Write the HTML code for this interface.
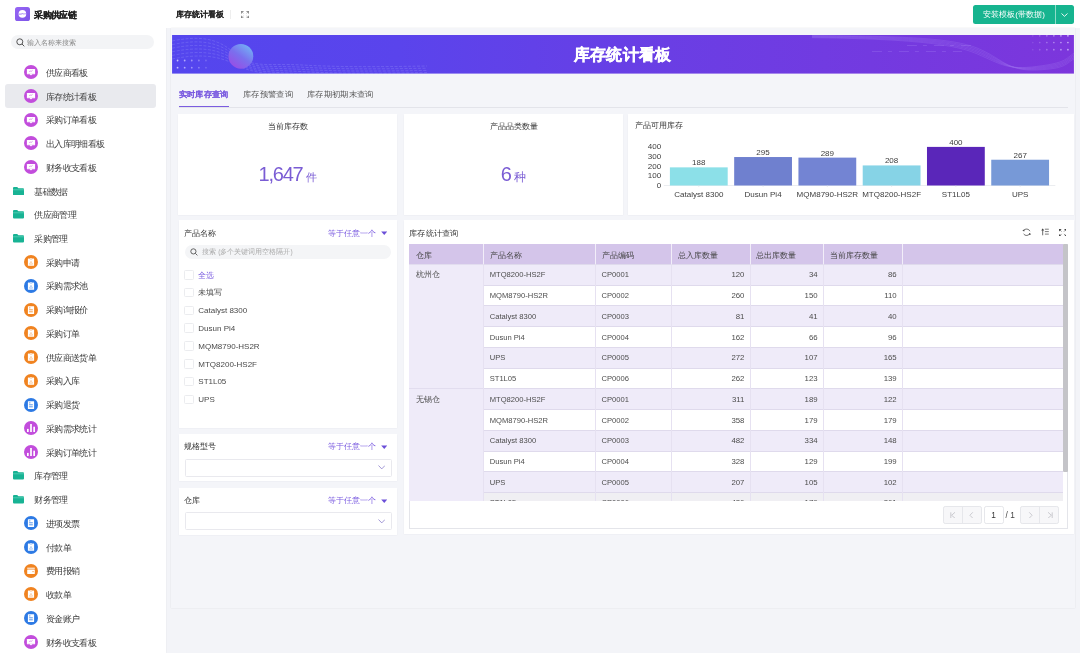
<!DOCTYPE html><html><head><meta charset="utf-8"><style>
*{box-sizing:border-box;margin:0;padding:0}
body{width:1080px;height:653px;overflow:hidden;position:relative;background:#f3f4f8;font-family:'Liberation Sans', sans-serif;color:#333}
.ab{position:absolute}
.t{position:absolute;white-space:nowrap;line-height:12px;height:12px}
</style></head><body><div id="root" style="position:absolute;left:0;top:0;width:1080px;height:653px;transform:scale(1.0);transform-origin:0 0;overflow:hidden;will-change:transform">

<div class="ab" style="left:0;top:0;width:165.8px;height:653px;background:#fff;box-shadow:0.5px 0 1.5px rgba(0,0,0,0.06)"></div>
<svg class="ab" style="left:15px;top:6.9px" width="15" height="14" viewBox="0 0 15 14">
<defs><linearGradient id="lg" x1="0" y1="0" x2="1" y2="1"><stop offset="0" stop-color="#9766f4"/><stop offset="1" stop-color="#7d55e8"/></linearGradient></defs>
<rect x="0" y="0" width="15" height="14" rx="2.6" fill="url(#lg)"/>
<circle cx="7.4" cy="6.9" r="3.8" fill="#fff"/>
<path d="M3.8 7.1 H6.2 Q7.3 5.9 8.4 7 L11 6.8" stroke="#b69af7" stroke-width="1.1" fill="none"/>
</svg>
<div class="t" style="left:34.4px;top:9px;font-size:9px;letter-spacing:-0.65px;font-weight:bold;color:#222;-webkit-text-stroke:0.2px #222">采购供应链</div>
<div class="ab" style="left:10.5px;top:34.8px;width:143.5px;height:14.7px;border-radius:7.5px;background:#f3f4f6"></div>
<svg class="ab" style="left:15.5px;top:38px" width="9" height="9" viewBox="0 0 9 9"><circle cx="3.8" cy="3.8" r="3" stroke="#555" stroke-width="1" fill="none"/><path d="M6 6 L8.3 8.3" stroke="#555" stroke-width="1"/></svg>
<div class="t" style="left:27.2px;top:37.2px;font-size:7px;color:#888">输入名称来搜索</div>
<div class="ab" style="left:5px;top:84.2px;width:151px;height:23.4px;border-radius:3px;background:#e9eaee"></div>
<svg class="ab" style="left:23.9px;top:65.20px" width="14" height="14" viewBox="0 0 14 14"><circle cx="7" cy="7" r="7" fill="#c24ddc"/><rect x="2.9" y="3.9" width="8.2" height="5.3" rx="0.5" fill="#fff"/><path d="M5.6 9.1 L8.4 9.1 L7 10.6Z" fill="#fff"/><path d="M5.2 6.6 L6.3 6.1 L7.2 6.4 L8.6 5.3" stroke="#c24ddc" stroke-width="0.55" fill="none"/><path d="M3.4 8.3 H10.6" stroke="#c24ddc" stroke-width="0.25" opacity="0.6"/></svg>
<div class="t" style="left:46px;top:66.80px;font-size:9px;letter-spacing:-0.65px;color:#3a3a3a">供应商看板</div>
<svg class="ab" style="left:23.9px;top:88.94px" width="14" height="14" viewBox="0 0 14 14"><circle cx="7" cy="7" r="7" fill="#c24ddc"/><rect x="2.9" y="3.9" width="8.2" height="5.3" rx="0.5" fill="#fff"/><path d="M5.6 9.1 L8.4 9.1 L7 10.6Z" fill="#fff"/><path d="M5.2 6.6 L6.3 6.1 L7.2 6.4 L8.6 5.3" stroke="#c24ddc" stroke-width="0.55" fill="none"/><path d="M3.4 8.3 H10.6" stroke="#c24ddc" stroke-width="0.25" opacity="0.6"/></svg>
<div class="t" style="left:46px;top:90.54px;font-size:9px;letter-spacing:-0.65px;color:#3a3a3a">库存统计看板</div>
<svg class="ab" style="left:23.9px;top:112.68px" width="14" height="14" viewBox="0 0 14 14"><circle cx="7" cy="7" r="7" fill="#c24ddc"/><rect x="2.9" y="3.9" width="8.2" height="5.3" rx="0.5" fill="#fff"/><path d="M5.6 9.1 L8.4 9.1 L7 10.6Z" fill="#fff"/><path d="M5.2 6.6 L6.3 6.1 L7.2 6.4 L8.6 5.3" stroke="#c24ddc" stroke-width="0.55" fill="none"/><path d="M3.4 8.3 H10.6" stroke="#c24ddc" stroke-width="0.25" opacity="0.6"/></svg>
<div class="t" style="left:46px;top:114.28px;font-size:9px;letter-spacing:-0.65px;color:#3a3a3a">采购订单看板</div>
<svg class="ab" style="left:23.9px;top:136.42px" width="14" height="14" viewBox="0 0 14 14"><circle cx="7" cy="7" r="7" fill="#c24ddc"/><rect x="2.9" y="3.9" width="8.2" height="5.3" rx="0.5" fill="#fff"/><path d="M5.6 9.1 L8.4 9.1 L7 10.6Z" fill="#fff"/><path d="M5.2 6.6 L6.3 6.1 L7.2 6.4 L8.6 5.3" stroke="#c24ddc" stroke-width="0.55" fill="none"/><path d="M3.4 8.3 H10.6" stroke="#c24ddc" stroke-width="0.25" opacity="0.6"/></svg>
<div class="t" style="left:46px;top:138.02px;font-size:9px;letter-spacing:-0.65px;color:#3a3a3a">出入库明细看板</div>
<svg class="ab" style="left:23.9px;top:160.16px" width="14" height="14" viewBox="0 0 14 14"><circle cx="7" cy="7" r="7" fill="#c24ddc"/><rect x="2.9" y="3.9" width="8.2" height="5.3" rx="0.5" fill="#fff"/><path d="M5.6 9.1 L8.4 9.1 L7 10.6Z" fill="#fff"/><path d="M5.2 6.6 L6.3 6.1 L7.2 6.4 L8.6 5.3" stroke="#c24ddc" stroke-width="0.55" fill="none"/><path d="M3.4 8.3 H10.6" stroke="#c24ddc" stroke-width="0.25" opacity="0.6"/></svg>
<div class="t" style="left:46px;top:161.76px;font-size:9px;letter-spacing:-0.65px;color:#3a3a3a">财务收支看板</div>
<svg class="ab" style="left:13.4px;top:186.60px" width="11" height="8.5" viewBox="0 0 11 8.5"><path d="M0 1 Q0 0 1 0 L4.2 0 L5.4 1.3 L10 1.3 Q11 1.3 11 2.3 L11 7.6 Q11 8.5 10 8.5 L1 8.5 Q0 8.5 0 7.6Z" fill="#18b394"/><path d="M0 2.8 H11" stroke="#7fe3cf" stroke-width="0.5"/></svg>
<div class="t" style="left:34.4px;top:185.50px;font-size:9px;letter-spacing:-0.65px;color:#3a3a3a">基础数据</div>
<svg class="ab" style="left:13.4px;top:210.34px" width="11" height="8.5" viewBox="0 0 11 8.5"><path d="M0 1 Q0 0 1 0 L4.2 0 L5.4 1.3 L10 1.3 Q11 1.3 11 2.3 L11 7.6 Q11 8.5 10 8.5 L1 8.5 Q0 8.5 0 7.6Z" fill="#18b394"/><path d="M0 2.8 H11" stroke="#7fe3cf" stroke-width="0.5"/></svg>
<div class="t" style="left:34.4px;top:209.24px;font-size:9px;letter-spacing:-0.65px;color:#3a3a3a">供应商管理</div>
<svg class="ab" style="left:13.4px;top:234.08px" width="11" height="8.5" viewBox="0 0 11 8.5"><path d="M0 1 Q0 0 1 0 L4.2 0 L5.4 1.3 L10 1.3 Q11 1.3 11 2.3 L11 7.6 Q11 8.5 10 8.5 L1 8.5 Q0 8.5 0 7.6Z" fill="#18b394"/><path d="M0 2.8 H11" stroke="#7fe3cf" stroke-width="0.5"/></svg>
<div class="t" style="left:34.4px;top:232.98px;font-size:9px;letter-spacing:-0.65px;color:#3a3a3a">采购管理</div>
<svg class="ab" style="left:23.9px;top:255.12px" width="14" height="14" viewBox="0 0 14 14"><circle cx="7" cy="7" r="7" fill="#f08320"/><rect x="3.9" y="3.6" width="6.2" height="7.2" rx="0.4" fill="#fff"/><rect x="5.8" y="3.0" width="2.4" height="1.2" rx="0.4" fill="#fff" stroke="#f08320" stroke-width="0.35"/><path d="M5.5 9.2 L7 6.4 L8.5 9.2Z" stroke="#f08320" stroke-width="0.45" fill="none" opacity="0.8"/></svg>
<div class="t" style="left:46px;top:256.72px;font-size:9px;letter-spacing:-0.65px;color:#3a3a3a">采购申请</div>
<svg class="ab" style="left:23.9px;top:278.86px" width="14" height="14" viewBox="0 0 14 14"><circle cx="7" cy="7" r="7" fill="#2d7ae4"/><rect x="3.9" y="3.6" width="6.2" height="7.2" rx="0.4" fill="#fff"/><rect x="5.8" y="3.0" width="2.4" height="1.2" rx="0.4" fill="#fff" stroke="#2d7ae4" stroke-width="0.35"/><path d="M5.5 9.2 L7 6.4 L8.5 9.2Z" stroke="#2d7ae4" stroke-width="0.45" fill="none" opacity="0.8"/></svg>
<div class="t" style="left:46px;top:280.46px;font-size:9px;letter-spacing:-0.65px;color:#3a3a3a">采购需求池</div>
<svg class="ab" style="left:23.9px;top:302.60px" width="14" height="14" viewBox="0 0 14 14"><circle cx="7" cy="7" r="7" fill="#f08320"/><rect x="3.9" y="3.3" width="6.2" height="7.6" rx="0.3" fill="#fff"/><path d="M5.1 4.9 H6.4 M5.1 6.8 H8.8 M5.1 8.8 H8.8" stroke="#f08320" stroke-width="0.8"/></svg>
<div class="t" style="left:46px;top:304.20px;font-size:9px;letter-spacing:-0.65px;color:#3a3a3a">采购询报价</div>
<svg class="ab" style="left:23.9px;top:326.34px" width="14" height="14" viewBox="0 0 14 14"><circle cx="7" cy="7" r="7" fill="#f08320"/><rect x="3.9" y="3.6" width="6.2" height="7.2" rx="0.4" fill="#fff"/><rect x="5.8" y="3.0" width="2.4" height="1.2" rx="0.4" fill="#fff" stroke="#f08320" stroke-width="0.35"/><path d="M5.5 9.2 L7 6.4 L8.5 9.2Z" stroke="#f08320" stroke-width="0.45" fill="none" opacity="0.8"/></svg>
<div class="t" style="left:46px;top:327.94px;font-size:9px;letter-spacing:-0.65px;color:#3a3a3a">采购订单</div>
<svg class="ab" style="left:23.9px;top:350.08px" width="14" height="14" viewBox="0 0 14 14"><circle cx="7" cy="7" r="7" fill="#f08320"/><rect x="3.9" y="3.6" width="6.2" height="7.2" rx="0.4" fill="#fff"/><rect x="5.8" y="3.0" width="2.4" height="1.2" rx="0.4" fill="#fff" stroke="#f08320" stroke-width="0.35"/><path d="M5.5 9.2 L7 6.4 L8.5 9.2Z" stroke="#f08320" stroke-width="0.45" fill="none" opacity="0.8"/></svg>
<div class="t" style="left:46px;top:351.68px;font-size:9px;letter-spacing:-0.65px;color:#3a3a3a">供应商送货单</div>
<svg class="ab" style="left:23.9px;top:373.82px" width="14" height="14" viewBox="0 0 14 14"><circle cx="7" cy="7" r="7" fill="#f08320"/><rect x="3.9" y="3.6" width="6.2" height="7.2" rx="0.4" fill="#fff"/><rect x="5.8" y="3.0" width="2.4" height="1.2" rx="0.4" fill="#fff" stroke="#f08320" stroke-width="0.35"/><path d="M5.5 9.2 L7 6.4 L8.5 9.2Z" stroke="#f08320" stroke-width="0.45" fill="none" opacity="0.8"/></svg>
<div class="t" style="left:46px;top:375.42px;font-size:9px;letter-spacing:-0.65px;color:#3a3a3a">采购入库</div>
<svg class="ab" style="left:23.9px;top:397.56px" width="14" height="14" viewBox="0 0 14 14"><circle cx="7" cy="7" r="7" fill="#2d7ae4"/><rect x="3.9" y="3.3" width="6.2" height="7.6" rx="0.3" fill="#fff"/><path d="M5.1 4.9 H6.4 M5.1 6.8 H8.8 M5.1 8.8 H8.8" stroke="#2d7ae4" stroke-width="0.8"/></svg>
<div class="t" style="left:46px;top:399.16px;font-size:9px;letter-spacing:-0.65px;color:#3a3a3a">采购退货</div>
<svg class="ab" style="left:23.9px;top:421.30px" width="14" height="14" viewBox="0 0 14 14"><circle cx="7" cy="7" r="7" fill="#c24ddc"/><rect x="3.0" y="7.9" width="1.7" height="3.1" fill="#fff"/><rect x="6.15" y="3.0" width="1.7" height="8.0" fill="#fff"/><rect x="9.3" y="5.7" width="1.7" height="5.3" fill="#fff"/></svg>
<div class="t" style="left:46px;top:422.90px;font-size:9px;letter-spacing:-0.65px;color:#3a3a3a">采购需求统计</div>
<svg class="ab" style="left:23.9px;top:445.04px" width="14" height="14" viewBox="0 0 14 14"><circle cx="7" cy="7" r="7" fill="#c24ddc"/><rect x="3.0" y="7.9" width="1.7" height="3.1" fill="#fff"/><rect x="6.15" y="3.0" width="1.7" height="8.0" fill="#fff"/><rect x="9.3" y="5.7" width="1.7" height="5.3" fill="#fff"/></svg>
<div class="t" style="left:46px;top:446.64px;font-size:9px;letter-spacing:-0.65px;color:#3a3a3a">采购订单统计</div>
<svg class="ab" style="left:13.4px;top:471.48px" width="11" height="8.5" viewBox="0 0 11 8.5"><path d="M0 1 Q0 0 1 0 L4.2 0 L5.4 1.3 L10 1.3 Q11 1.3 11 2.3 L11 7.6 Q11 8.5 10 8.5 L1 8.5 Q0 8.5 0 7.6Z" fill="#18b394"/><path d="M0 2.8 H11" stroke="#7fe3cf" stroke-width="0.5"/></svg>
<div class="t" style="left:34.4px;top:470.38px;font-size:9px;letter-spacing:-0.65px;color:#3a3a3a">库存管理</div>
<svg class="ab" style="left:13.4px;top:495.22px" width="11" height="8.5" viewBox="0 0 11 8.5"><path d="M0 1 Q0 0 1 0 L4.2 0 L5.4 1.3 L10 1.3 Q11 1.3 11 2.3 L11 7.6 Q11 8.5 10 8.5 L1 8.5 Q0 8.5 0 7.6Z" fill="#18b394"/><path d="M0 2.8 H11" stroke="#7fe3cf" stroke-width="0.5"/></svg>
<div class="t" style="left:34.4px;top:494.12px;font-size:9px;letter-spacing:-0.65px;color:#3a3a3a">财务管理</div>
<svg class="ab" style="left:23.9px;top:516.26px" width="14" height="14" viewBox="0 0 14 14"><circle cx="7" cy="7" r="7" fill="#2d7ae4"/><rect x="3.9" y="3.3" width="6.2" height="7.6" rx="0.3" fill="#fff"/><path d="M5.1 4.9 H6.4 M5.1 6.8 H8.8 M5.1 8.8 H8.8" stroke="#2d7ae4" stroke-width="0.8"/></svg>
<div class="t" style="left:46px;top:517.86px;font-size:9px;letter-spacing:-0.65px;color:#3a3a3a">进项发票</div>
<svg class="ab" style="left:23.9px;top:540.00px" width="14" height="14" viewBox="0 0 14 14"><circle cx="7" cy="7" r="7" fill="#2d7ae4"/><rect x="3.9" y="3.6" width="6.2" height="7.2" rx="0.4" fill="#fff"/><rect x="5.8" y="3.0" width="2.4" height="1.2" rx="0.4" fill="#fff" stroke="#2d7ae4" stroke-width="0.35"/><path d="M5.5 9.2 L7 6.4 L8.5 9.2Z" stroke="#2d7ae4" stroke-width="0.45" fill="none" opacity="0.8"/></svg>
<div class="t" style="left:46px;top:541.60px;font-size:9px;letter-spacing:-0.65px;color:#3a3a3a">付款单</div>
<svg class="ab" style="left:23.9px;top:563.74px" width="14" height="14" viewBox="0 0 14 14"><circle cx="7" cy="7" r="7" fill="#f08320"/><rect x="3.2" y="3.7" width="7.6" height="1.0" fill="#fff"/><rect x="3.2" y="5.6" width="7.6" height="4.3" rx="0.3" fill="#fff"/><rect x="8.4" y="7.3" width="1.3" height="0.8" fill="#f08320"/></svg>
<div class="t" style="left:46px;top:565.34px;font-size:9px;letter-spacing:-0.65px;color:#3a3a3a">费用报销</div>
<svg class="ab" style="left:23.9px;top:587.48px" width="14" height="14" viewBox="0 0 14 14"><circle cx="7" cy="7" r="7" fill="#f08320"/><rect x="3.9" y="3.6" width="6.2" height="7.2" rx="0.4" fill="#fff"/><rect x="5.8" y="3.0" width="2.4" height="1.2" rx="0.4" fill="#fff" stroke="#f08320" stroke-width="0.35"/><path d="M5.5 9.2 L7 6.4 L8.5 9.2Z" stroke="#f08320" stroke-width="0.45" fill="none" opacity="0.8"/></svg>
<div class="t" style="left:46px;top:589.08px;font-size:9px;letter-spacing:-0.65px;color:#3a3a3a">收款单</div>
<svg class="ab" style="left:23.9px;top:611.22px" width="14" height="14" viewBox="0 0 14 14"><circle cx="7" cy="7" r="7" fill="#2d7ae4"/><rect x="3.9" y="3.3" width="6.2" height="7.6" rx="0.3" fill="#fff"/><path d="M5.1 4.9 H6.4 M5.1 6.8 H8.8 M5.1 8.8 H8.8" stroke="#2d7ae4" stroke-width="0.8"/></svg>
<div class="t" style="left:46px;top:612.82px;font-size:9px;letter-spacing:-0.65px;color:#3a3a3a">资金账户</div>
<svg class="ab" style="left:23.9px;top:634.96px" width="14" height="14" viewBox="0 0 14 14"><circle cx="7" cy="7" r="7" fill="#c24ddc"/><rect x="2.9" y="3.9" width="8.2" height="5.3" rx="0.5" fill="#fff"/><path d="M5.6 9.1 L8.4 9.1 L7 10.6Z" fill="#fff"/><path d="M5.2 6.6 L6.3 6.1 L7.2 6.4 L8.6 5.3" stroke="#c24ddc" stroke-width="0.55" fill="none"/><path d="M3.4 8.3 H10.6" stroke="#c24ddc" stroke-width="0.25" opacity="0.6"/></svg>
<div class="t" style="left:46px;top:636.56px;font-size:9px;letter-spacing:-0.65px;color:#3a3a3a">财务收支看板</div>
<div class="ab" style="left:165px;top:0;width:915px;height:28px;background:#fff"></div>
<div class="t" style="left:175.8px;top:8.5px;font-size:8px;font-weight:bold;color:#262626;-webkit-text-stroke:0.1px #262626">库存统计看板</div>
<div class="ab" style="left:230.2px;top:9.5px;width:0.8px;height:9.5px;background:#eeeeee"></div>
<svg class="ab" style="left:241px;top:10.6px" width="8" height="7.4" viewBox="0 0 8 7.4"><g stroke="#555" stroke-width="0.7" fill="none"><path d="M0.4 2.6 V0.4 H2.6"/><path d="M5.4 0.4 H7.6 V2.6"/><path d="M7.6 4.8 V7 H5.4"/><path d="M2.6 7 H0.4 V4.8"/><path d="M0.6 0.6 L2.4 2.3 M7.4 0.6 L5.6 2.3 M7.4 6.8 L5.6 5.1 M0.6 6.8 L2.4 5.1" stroke-width="0.5"/></g></svg>
<div class="ab" style="left:972.8px;top:5px;width:101px;height:18.7px;border-radius:2.5px;background:#16b48f"></div>
<div class="ab" style="left:1055.3px;top:5px;width:0.8px;height:18.7px;background:#8fdcc8"></div>
<div class="t" style="left:982.8px;top:9.3px;font-size:8px;letter-spacing:0.1px;color:#fff">安装模板(带数据)</div>
<svg class="ab" style="left:1061px;top:12.5px" width="7" height="4" viewBox="0 0 7 4"><path d="M0.5 0.5 L3.5 3.3 L6.5 0.5" stroke="#fff" stroke-width="0.9" fill="none"/></svg>
<div class="ab" style="left:171.3px;top:28px;width:903.5px;height:579.5px;background:#f4f5f9;box-shadow:0 0 1.5px rgba(0,0,0,0.10)"></div>
<svg class="ab" style="left:172px;top:35px" width="902" height="38.6" viewBox="0 0 902 38.6">
<defs><linearGradient id="bg" x1="0" y1="0" x2="1" y2="0"><stop offset="0" stop-color="#5446ee"/><stop offset="0.25" stop-color="#5a44ec"/><stop offset="0.55" stop-color="#6a3ee4"/><stop offset="1" stop-color="#7c36dc"/></linearGradient>
<linearGradient id="sph" x1="0.8" y1="0.1" x2="0.2" y2="0.9"><stop offset="0" stop-color="#74acf4"/><stop offset="0.5" stop-color="#7a70ee"/><stop offset="1" stop-color="#9650e6"/></linearGradient></defs>
<rect width="902" height="38.6" fill="url(#bg)"/><g stroke="#bcc0ff" stroke-width="0.4" fill="none" opacity="0.5" stroke-dasharray="3 1.5"><path d="M0 6.0 C25 1.0 45 2.0 62 18.0 S95 28.0 130 30.0 S200 32.0 255 31.0"/><path d="M0 9.6 C25 4.6 45 5.6 62 20.2 S95 30.2 130 32.2 S200 34.2 255 33.2"/><path d="M0 13.2 C25 8.2 45 9.2 62 22.4 S95 32.4 130 34.4 S200 36.4 255 35.4"/><path d="M0 16.8 C25 11.8 45 12.8 62 24.6 S95 34.6 130 36.6 S200 38.6 255 37.6"/><path d="M0 20.4 C25 15.4 45 16.4 62 26.8 S95 36.8 130 38.8 S200 40.8 255 39.8"/><path d="M0 24.0 C25 19.0 45 20.0 62 29.0 S95 39.0 130 41.0 S200 43.0 255 42.0"/></g><circle cx="68.8" cy="21.3" r="12.4" fill="url(#sph)"/><g fill="#d8d4ff"><circle cx="5.5" cy="25.5" r="0.9" opacity="0.85"/><circle cx="12.6" cy="25.5" r="0.9" opacity="0.70"/><circle cx="19.7" cy="25.5" r="0.9" opacity="0.55"/><circle cx="26.8" cy="25.5" r="0.9" opacity="0.40"/><circle cx="33.9" cy="25.5" r="0.9" opacity="0.25"/><circle cx="5.5" cy="32.7" r="0.9" opacity="0.85"/><circle cx="12.6" cy="32.7" r="0.9" opacity="0.70"/><circle cx="19.7" cy="32.7" r="0.9" opacity="0.55"/><circle cx="26.8" cy="32.7" r="0.9" opacity="0.40"/><circle cx="33.9" cy="32.7" r="0.9" opacity="0.25"/></g><g stroke="#c6b0ff" stroke-width="0.35" fill="none" opacity="0.45"><path d="M640 0.5 C730 1.0 780 3.0 805 13.0 S835 36.5 865 35.0 S893 29.0 902 24.0"/><path d="M640 1.0 C730 1.7 780 4.3 805 14.4 S835 36.1 865 34.1 S893 27.7 902 22.6"/><path d="M640 1.6 C730 2.4 780 5.5 805 15.9 S835 35.8 865 33.2 S893 26.5 902 21.1"/><path d="M640 2.1 C730 3.2 780 6.8 805 17.3 S835 35.4 865 32.3 S893 25.2 902 19.7"/><path d="M640 2.7 C730 3.9 780 8.0 805 18.8 S835 35.1 865 31.4 S893 24.0 902 18.2"/></g><g stroke="#c9b5ff" stroke-width="0.5" opacity="0.35" stroke-dasharray="10 6 4 7"><path d="M735 10.5 H800"/><path d="M700 16.5 H790"/></g><g fill="#e0d0ff"><circle cx="860.8" cy="0.8" r="0.85" opacity="0.15"/><circle cx="867.8" cy="0.8" r="0.85" opacity="0.27"/><circle cx="874.9" cy="0.8" r="0.85" opacity="0.39"/><circle cx="881.9" cy="0.8" r="0.85" opacity="0.51"/><circle cx="889.0" cy="0.8" r="0.85" opacity="0.63"/><circle cx="896.0" cy="0.8" r="0.85" opacity="0.75"/><circle cx="860.8" cy="7.5" r="0.85" opacity="0.15"/><circle cx="867.8" cy="7.5" r="0.85" opacity="0.27"/><circle cx="874.9" cy="7.5" r="0.85" opacity="0.39"/><circle cx="881.9" cy="7.5" r="0.85" opacity="0.51"/><circle cx="889.0" cy="7.5" r="0.85" opacity="0.63"/><circle cx="896.0" cy="7.5" r="0.85" opacity="0.75"/><circle cx="860.8" cy="14.7" r="0.85" opacity="0.15"/><circle cx="867.8" cy="14.7" r="0.85" opacity="0.27"/><circle cx="874.9" cy="14.7" r="0.85" opacity="0.39"/><circle cx="881.9" cy="14.7" r="0.85" opacity="0.51"/><circle cx="889.0" cy="14.7" r="0.85" opacity="0.63"/><circle cx="896.0" cy="14.7" r="0.85" opacity="0.75"/></g></svg>
<div class="t" style="left:573.8px;top:45px;font-size:16px;line-height:20px;height:20px;font-weight:900;color:#fff;-webkit-text-stroke:0.35px #fff;letter-spacing:0.3px">库存统计看板</div>
<div class="ab" style="left:179px;top:106.8px;width:889px;height:0.8px;background:#e3e4ea"></div>
<div class="t" style="left:179.2px;top:89px;transform:scaleX(1.025);transform-origin:0 0;font-size:8px;font-weight:bold;color:#7b5ce0;-webkit-text-stroke:0.1px #7b5ce0">实时库存查询</div>
<div class="t" style="left:243.3px;top:89px;font-size:8px;color:#555;transform:scaleX(1.04);transform-origin:0 0">库存预警查询</div>
<div class="t" style="left:306.9px;top:89px;font-size:8px;color:#555;transform:scaleX(1.04);transform-origin:0 0">库存期初期末查询</div>
<div class="ab" style="left:179px;top:105.8px;width:50px;height:1.5px;background:#7b5ce0"></div>
<div class="ab" style="left:177.6px;top:113.5px;width:219.5px;height:101.5px;background:#fff;box-shadow:0 0.5px 1.5px rgba(30,30,60,0.06)"></div>
<div class="ab" style="left:403.6px;top:113.5px;width:219px;height:101.5px;background:#fff;box-shadow:0 0.5px 1.5px rgba(30,30,60,0.06)"></div>
<div class="ab" style="left:628px;top:113.5px;width:446px;height:101.5px;background:#fff;box-shadow:0 0.5px 1.5px rgba(30,30,60,0.06)"></div>
<div class="t" style="left:178px;width:220px;text-align:center;top:121px;font-size:8px;color:#333">当前库存数</div>
<div class="t" style="left:258.6px;top:162.5px;font-size:20px;line-height:22px;height:22px;color:#7a5cd4;letter-spacing:-1.25px">1,647</div>
<div class="t" style="left:306.3px;top:171px;font-size:11px;line-height:12px;color:#7a5cd4">件</div>
<div class="t" style="left:403.5px;width:220px;text-align:center;top:121px;font-size:8px;color:#333">产品品类数量</div>
<div class="t" style="left:500.8px;top:162.5px;font-size:20px;line-height:22px;height:22px;color:#7a5cd4">6</div>
<div class="t" style="left:513.8px;top:170.5px;font-size:12px;line-height:12px;color:#7a5cd4">种</div>
<div class="t" style="left:634.9px;top:120.3px;font-size:8px;color:#333">产品可用库存</div>
<svg class="ab" style="left:628px;top:130px" width="446" height="80" viewBox="0 0 446 80"><text transform="translate(33.20,57.90) scale(1.2,1)" text-anchor="end" font-size="6.7" fill="#3d3d3d" font-family="Liberation Sans">0</text><text transform="translate(33.20,48.25) scale(1.2,1)" text-anchor="end" font-size="6.7" fill="#3d3d3d" font-family="Liberation Sans">100</text><text transform="translate(33.20,38.60) scale(1.2,1)" text-anchor="end" font-size="6.7" fill="#3d3d3d" font-family="Liberation Sans">200</text><text transform="translate(33.20,28.95) scale(1.2,1)" text-anchor="end" font-size="6.7" fill="#3d3d3d" font-family="Liberation Sans">300</text><text transform="translate(33.20,19.30) scale(1.2,1)" text-anchor="end" font-size="6.7" fill="#3d3d3d" font-family="Liberation Sans">400</text><path d="M35.8 55.50 H427.3" stroke="#dde0e6" stroke-width="0.6"/><rect x="41.90" y="37.36" width="57.8" height="18.14" fill="#8ce0e8"/><text transform="translate(70.80,35.36) scale(1.2,1)" text-anchor="middle" font-size="6.7" fill="#3d3d3d" font-family="Liberation Sans">188</text><text transform="translate(70.80,66.60) scale(1.2,1)" text-anchor="middle" font-size="6.7" fill="#3d3d3d" font-family="Liberation Sans">Catalyst 8300</text><path d="M70.80 55.50 V57.00" stroke="#dde0e6" stroke-width="0.6"/><rect x="106.17" y="27.03" width="57.8" height="28.47" fill="#6f80cf"/><text transform="translate(135.07,25.03) scale(1.2,1)" text-anchor="middle" font-size="6.7" fill="#3d3d3d" font-family="Liberation Sans">295</text><text transform="translate(135.07,66.60) scale(1.2,1)" text-anchor="middle" font-size="6.7" fill="#3d3d3d" font-family="Liberation Sans">Dusun Pi4</text><path d="M135.07 55.50 V57.00" stroke="#dde0e6" stroke-width="0.6"/><rect x="170.44" y="27.61" width="57.8" height="27.89" fill="#7384d3"/><text transform="translate(199.34,25.61) scale(1.2,1)" text-anchor="middle" font-size="6.7" fill="#3d3d3d" font-family="Liberation Sans">289</text><text transform="translate(199.34,66.60) scale(1.2,1)" text-anchor="middle" font-size="6.7" fill="#3d3d3d" font-family="Liberation Sans">MQM8790-HS2R</text><path d="M199.34 55.50 V57.00" stroke="#dde0e6" stroke-width="0.6"/><rect x="234.71" y="35.43" width="57.8" height="20.07" fill="#86d3e6"/><text transform="translate(263.61,33.43) scale(1.2,1)" text-anchor="middle" font-size="6.7" fill="#3d3d3d" font-family="Liberation Sans">208</text><text transform="translate(263.61,66.60) scale(1.2,1)" text-anchor="middle" font-size="6.7" fill="#3d3d3d" font-family="Liberation Sans">MTQ8200-HS2F</text><path d="M263.61 55.50 V57.00" stroke="#dde0e6" stroke-width="0.6"/><rect x="298.98" y="16.90" width="57.8" height="38.60" fill="#5a26b9"/><text transform="translate(327.88,14.90) scale(1.2,1)" text-anchor="middle" font-size="6.7" fill="#3d3d3d" font-family="Liberation Sans">400</text><text transform="translate(327.88,66.60) scale(1.2,1)" text-anchor="middle" font-size="6.7" fill="#3d3d3d" font-family="Liberation Sans">ST1L05</text><path d="M327.88 55.50 V57.00" stroke="#dde0e6" stroke-width="0.6"/><rect x="363.25" y="29.73" width="57.8" height="25.77" fill="#7799d7"/><text transform="translate(392.15,27.73) scale(1.2,1)" text-anchor="middle" font-size="6.7" fill="#3d3d3d" font-family="Liberation Sans">267</text><text transform="translate(392.15,66.60) scale(1.2,1)" text-anchor="middle" font-size="6.7" fill="#3d3d3d" font-family="Liberation Sans">UPS</text><path d="M392.15 55.50 V57.00" stroke="#dde0e6" stroke-width="0.6"/></svg>
<div class="ab" style="left:178.8px;top:219.7px;width:218px;height:208px;background:#fff;box-shadow:0 0.5px 1.5px rgba(30,30,60,0.06)"></div>
<div class="t" style="left:184.1px;top:228px;font-size:8px;color:#333">产品名称</div>
<div class="t" style="left:327.7px;top:228px;font-size:8px;color:#7b5ce0">等于任意一个</div>
<svg class="ab" style="left:380.8px;top:231.4px" width="6.5" height="4.5" viewBox="0 0 6.5 4.5"><path d="M0.2 0.4 H6.3 L3.25 4Z" fill="#6b4fd8"/></svg>
<div class="ab" style="left:185.3px;top:244.6px;width:206.2px;height:14.2px;border-radius:7px;background:#f4f5f7"></div>
<svg class="ab" style="left:189.5px;top:247.5px" width="8" height="8" viewBox="0 0 8 8"><circle cx="3.4" cy="3.4" r="2.6" stroke="#555" stroke-width="0.9" fill="none"/><path d="M5.3 5.3 L7.4 7.4" stroke="#555" stroke-width="0.9"/></svg>
<div class="t" style="left:202.4px;top:245.5px;font-size:6.6px;color:#aaa">搜索 (多个关键词用空格隔开)</div>
<div class="ab" style="left:184.1px;top:270.00px;width:9.5px;height:9.5px;border:0.7px solid #ebecef;border-radius:1.5px;background:#fff"></div>
<div class="t" style="left:198.3px;top:269.50px;font-size:8px;color:#7b5ce0">全选</div>
<div class="ab" style="left:184.1px;top:287.82px;width:9.5px;height:9.5px;border:0.7px solid #ebecef;border-radius:1.5px;background:#fff"></div>
<div class="t" style="left:198.3px;top:287.32px;font-size:8px;color:#4a4a4a">未填写</div>
<div class="ab" style="left:184.1px;top:305.64px;width:9.5px;height:9.5px;border:0.7px solid #ebecef;border-radius:1.5px;background:#fff"></div>
<div class="t" style="left:198.3px;top:305.14px;font-size:8px;color:#4a4a4a">Catalyst 8300</div>
<div class="ab" style="left:184.1px;top:323.46px;width:9.5px;height:9.5px;border:0.7px solid #ebecef;border-radius:1.5px;background:#fff"></div>
<div class="t" style="left:198.3px;top:322.96px;font-size:8px;color:#4a4a4a">Dusun Pi4</div>
<div class="ab" style="left:184.1px;top:341.28px;width:9.5px;height:9.5px;border:0.7px solid #ebecef;border-radius:1.5px;background:#fff"></div>
<div class="t" style="left:198.3px;top:340.78px;font-size:8px;color:#4a4a4a">MQM8790-HS2R</div>
<div class="ab" style="left:184.1px;top:359.10px;width:9.5px;height:9.5px;border:0.7px solid #ebecef;border-radius:1.5px;background:#fff"></div>
<div class="t" style="left:198.3px;top:358.60px;font-size:8px;color:#4a4a4a">MTQ8200-HS2F</div>
<div class="ab" style="left:184.1px;top:376.92px;width:9.5px;height:9.5px;border:0.7px solid #ebecef;border-radius:1.5px;background:#fff"></div>
<div class="t" style="left:198.3px;top:376.42px;font-size:8px;color:#4a4a4a">ST1L05</div>
<div class="ab" style="left:184.1px;top:394.74px;width:9.5px;height:9.5px;border:0.7px solid #ebecef;border-radius:1.5px;background:#fff"></div>
<div class="t" style="left:198.3px;top:394.24px;font-size:8px;color:#4a4a4a">UPS</div>
<div class="ab" style="left:178.8px;top:434.1px;width:218px;height:47.3px;background:#fff;box-shadow:0 0.5px 1.5px rgba(30,30,60,0.06)"></div>
<div class="t" style="left:183.8px;top:441.40000000000003px;font-size:8px;color:#333">规格型号</div>
<div class="t" style="left:327.7px;top:441.40000000000003px;font-size:8px;color:#7b5ce0">等于任意一个</div>
<svg class="ab" style="left:380.8px;top:444.8px" width="6.5" height="4.5" viewBox="0 0 6.5 4.5"><path d="M0.2 0.4 H6.3 L3.25 4Z" fill="#6b4fd8"/></svg>
<div class="ab" style="left:184.5px;top:458.6px;width:207px;height:18px;border:0.7px solid #e9e9ee;border-radius:1.5px;background:#fff"></div>
<svg class="ab" style="left:377.8px;top:465.40000000000003px" width="7.5" height="4.5" viewBox="0 0 7.5 4.5"><path d="M0.5 0.5 L3.75 3.9 L7 0.5" stroke="#8477c8" stroke-width="0.75" fill="none"/></svg>
<div class="ab" style="left:178.8px;top:487.9px;width:218px;height:47.3px;background:#fff;box-shadow:0 0.5px 1.5px rgba(30,30,60,0.06)"></div>
<div class="t" style="left:183.8px;top:495.2px;font-size:8px;color:#333">仓库</div>
<div class="t" style="left:327.7px;top:495.2px;font-size:8px;color:#7b5ce0">等于任意一个</div>
<svg class="ab" style="left:380.8px;top:498.59999999999997px" width="6.5" height="4.5" viewBox="0 0 6.5 4.5"><path d="M0.2 0.4 H6.3 L3.25 4Z" fill="#6b4fd8"/></svg>
<div class="ab" style="left:184.5px;top:512.4px;width:207px;height:18px;border:0.7px solid #e9e9ee;border-radius:1.5px;background:#fff"></div>
<svg class="ab" style="left:377.8px;top:519.1999999999999px" width="7.5" height="4.5" viewBox="0 0 7.5 4.5"><path d="M0.5 0.5 L3.75 3.9 L7 0.5" stroke="#8477c8" stroke-width="0.75" fill="none"/></svg>
<div class="ab" style="left:403.8px;top:219.7px;width:670.2px;height:314.8px;background:#fff;box-shadow:0 0.5px 1.5px rgba(30,30,60,0.06)"></div>
<div class="t" style="left:409.4px;top:228px;font-size:8px;color:#333;transform:scaleX(1.035);transform-origin:0 0">库存统计查询</div>
<svg class="ab" style="left:1022px;top:227.8px" width="9.5" height="8.5" viewBox="0 0 9.5 8.5"><path d="M1.6 2.6 A3.6 3.6 0 0 1 7.9 3.2" stroke="#444" stroke-width="0.75" fill="none"/><path d="M7.9 5.3 A3.6 3.6 0 0 1 1.6 5.9" stroke="#444" stroke-width="0.75" fill="none"/><path d="M0.3 2.2 L2.4 1.6 L2.3 3.4Z" fill="#444"/><path d="M9.2 6.3 L7.1 6.9 L7.2 5.1Z" fill="#444"/></svg>
<svg class="ab" style="left:1040.5px;top:228.3px" width="8" height="7.5" viewBox="0 0 8 7.5"><path d="M1.7 7.3 V0.9" stroke="#444" stroke-width="0.8"/><path d="M0.2 2.4 L1.7 0.4 L3.2 2.4Z" fill="#444"/><path d="M3.9 1.2 H7.8 M3.9 3.6 H7.8 M3.9 6.1 H7.8" stroke="#444" stroke-width="0.7"/></svg>
<svg class="ab" style="left:1058.5px;top:228.5px" width="7.6" height="7.5" viewBox="0 0 7.6 7.5"><g fill="#444"><path d="M0 0 H2.6 L0 2.6Z"/><path d="M7.6 0 H5 L7.6 2.6Z"/><path d="M0 7.5 H2.6 L0 4.9Z"/><path d="M7.6 7.5 H5 L7.6 4.9Z"/></g><path d="M0.8 0.8 L2.6 2.6 M6.8 0.8 L5 2.6 M0.8 6.7 L2.6 4.9 M6.8 6.7 L5 4.9" stroke="#444" stroke-width="0.6"/></svg>
<div class="ab" style="left:409.4px;top:244.3px;width:658.6px;height:284.3px;border:0.8px solid #e4e5ea;background:#fff"></div>
<div class="ab" style="left:409.4px;top:244.3px;width:653.6999999999999px;height:19.5px;background:#d4c5ea"></div>
<div class="t" style="left:415.70px;top:249.65px;font-size:8px;color:#444">仓库</div>
<div class="t" style="left:489.70px;top:249.65px;font-size:8px;color:#444">产品名称</div>
<div class="t" style="left:601.50px;top:249.65px;font-size:8px;color:#444">产品编码</div>
<div class="t" style="left:677.70px;top:249.65px;font-size:8px;color:#444">总入库数量</div>
<div class="t" style="left:756.40px;top:249.65px;font-size:8px;color:#444">总出库数量</div>
<div class="t" style="left:829.60px;top:249.65px;font-size:8px;color:#444">当前库存数量</div>
<div class="ab" style="left:409.4px;top:263.8px;width:653.70px;height:237.70px;overflow:hidden"><div class="ab" style="left:74.00px;top:0.00px;width:579.70px;height:20.75px;background:#efebf9;border-top:0.7px solid #dfdaec"></div><div class="t" style="left:80.30px;top:5.47px;font-size:7.6px;color:#4d4d4d">MTQ8200-HS2F</div><div class="t" style="left:192.10px;top:5.47px;font-size:7.6px;color:#4d4d4d">CP0001</div><div class="t" style="left:295.00px;width:40px;text-align:right;top:5.47px;font-size:7.8px;color:#4d4d4d">120</div><div class="t" style="left:368.20px;width:40px;text-align:right;top:5.47px;font-size:7.8px;color:#4d4d4d">34</div><div class="t" style="left:447.30px;width:40px;text-align:right;top:5.47px;font-size:7.8px;color:#4d4d4d">86</div><div class="ab" style="left:74.00px;top:20.75px;width:579.70px;height:20.75px;background:#ffffff;border-top:0.7px solid #dfdaec"></div><div class="t" style="left:80.30px;top:26.23px;font-size:7.6px;color:#4d4d4d">MQM8790-HS2R</div><div class="t" style="left:192.10px;top:26.23px;font-size:7.6px;color:#4d4d4d">CP0002</div><div class="t" style="left:295.00px;width:40px;text-align:right;top:26.23px;font-size:7.8px;color:#4d4d4d">260</div><div class="t" style="left:368.20px;width:40px;text-align:right;top:26.23px;font-size:7.8px;color:#4d4d4d">150</div><div class="t" style="left:447.30px;width:40px;text-align:right;top:26.23px;font-size:7.8px;color:#4d4d4d">110</div><div class="ab" style="left:74.00px;top:41.50px;width:579.70px;height:20.75px;background:#efebf9;border-top:0.7px solid #dfdaec"></div><div class="t" style="left:80.30px;top:46.98px;font-size:7.6px;color:#4d4d4d">Catalyst 8300</div><div class="t" style="left:192.10px;top:46.98px;font-size:7.6px;color:#4d4d4d">CP0003</div><div class="t" style="left:295.00px;width:40px;text-align:right;top:46.98px;font-size:7.8px;color:#4d4d4d">81</div><div class="t" style="left:368.20px;width:40px;text-align:right;top:46.98px;font-size:7.8px;color:#4d4d4d">41</div><div class="t" style="left:447.30px;width:40px;text-align:right;top:46.98px;font-size:7.8px;color:#4d4d4d">40</div><div class="ab" style="left:74.00px;top:62.25px;width:579.70px;height:20.75px;background:#ffffff;border-top:0.7px solid #dfdaec"></div><div class="t" style="left:80.30px;top:67.72px;font-size:7.6px;color:#4d4d4d">Dusun Pi4</div><div class="t" style="left:192.10px;top:67.72px;font-size:7.6px;color:#4d4d4d">CP0004</div><div class="t" style="left:295.00px;width:40px;text-align:right;top:67.72px;font-size:7.8px;color:#4d4d4d">162</div><div class="t" style="left:368.20px;width:40px;text-align:right;top:67.72px;font-size:7.8px;color:#4d4d4d">66</div><div class="t" style="left:447.30px;width:40px;text-align:right;top:67.72px;font-size:7.8px;color:#4d4d4d">96</div><div class="ab" style="left:74.00px;top:83.00px;width:579.70px;height:20.75px;background:#efebf9;border-top:0.7px solid #dfdaec"></div><div class="t" style="left:80.30px;top:88.47px;font-size:7.6px;color:#4d4d4d">UPS</div><div class="t" style="left:192.10px;top:88.47px;font-size:7.6px;color:#4d4d4d">CP0005</div><div class="t" style="left:295.00px;width:40px;text-align:right;top:88.47px;font-size:7.8px;color:#4d4d4d">272</div><div class="t" style="left:368.20px;width:40px;text-align:right;top:88.47px;font-size:7.8px;color:#4d4d4d">107</div><div class="t" style="left:447.30px;width:40px;text-align:right;top:88.47px;font-size:7.8px;color:#4d4d4d">165</div><div class="ab" style="left:74.00px;top:103.75px;width:579.70px;height:20.75px;background:#ffffff;border-top:0.7px solid #dfdaec"></div><div class="t" style="left:80.30px;top:109.22px;font-size:7.6px;color:#4d4d4d">ST1L05</div><div class="t" style="left:192.10px;top:109.22px;font-size:7.6px;color:#4d4d4d">CP0006</div><div class="t" style="left:295.00px;width:40px;text-align:right;top:109.22px;font-size:7.8px;color:#4d4d4d">262</div><div class="t" style="left:368.20px;width:40px;text-align:right;top:109.22px;font-size:7.8px;color:#4d4d4d">123</div><div class="t" style="left:447.30px;width:40px;text-align:right;top:109.22px;font-size:7.8px;color:#4d4d4d">139</div><div class="ab" style="left:74.00px;top:124.50px;width:579.70px;height:20.75px;background:#efebf9;border-top:0.7px solid #dfdaec"></div><div class="t" style="left:80.30px;top:129.97px;font-size:7.6px;color:#4d4d4d">MTQ8200-HS2F</div><div class="t" style="left:192.10px;top:129.97px;font-size:7.6px;color:#4d4d4d">CP0001</div><div class="t" style="left:295.00px;width:40px;text-align:right;top:129.97px;font-size:7.8px;color:#4d4d4d">311</div><div class="t" style="left:368.20px;width:40px;text-align:right;top:129.97px;font-size:7.8px;color:#4d4d4d">189</div><div class="t" style="left:447.30px;width:40px;text-align:right;top:129.97px;font-size:7.8px;color:#4d4d4d">122</div><div class="ab" style="left:74.00px;top:145.25px;width:579.70px;height:20.75px;background:#ffffff;border-top:0.7px solid #dfdaec"></div><div class="t" style="left:80.30px;top:150.72px;font-size:7.6px;color:#4d4d4d">MQM8790-HS2R</div><div class="t" style="left:192.10px;top:150.72px;font-size:7.6px;color:#4d4d4d">CP0002</div><div class="t" style="left:295.00px;width:40px;text-align:right;top:150.72px;font-size:7.8px;color:#4d4d4d">358</div><div class="t" style="left:368.20px;width:40px;text-align:right;top:150.72px;font-size:7.8px;color:#4d4d4d">179</div><div class="t" style="left:447.30px;width:40px;text-align:right;top:150.72px;font-size:7.8px;color:#4d4d4d">179</div><div class="ab" style="left:74.00px;top:166.00px;width:579.70px;height:20.75px;background:#efebf9;border-top:0.7px solid #dfdaec"></div><div class="t" style="left:80.30px;top:171.47px;font-size:7.6px;color:#4d4d4d">Catalyst 8300</div><div class="t" style="left:192.10px;top:171.47px;font-size:7.6px;color:#4d4d4d">CP0003</div><div class="t" style="left:295.00px;width:40px;text-align:right;top:171.47px;font-size:7.8px;color:#4d4d4d">482</div><div class="t" style="left:368.20px;width:40px;text-align:right;top:171.47px;font-size:7.8px;color:#4d4d4d">334</div><div class="t" style="left:447.30px;width:40px;text-align:right;top:171.47px;font-size:7.8px;color:#4d4d4d">148</div><div class="ab" style="left:74.00px;top:186.75px;width:579.70px;height:20.75px;background:#ffffff;border-top:0.7px solid #dfdaec"></div><div class="t" style="left:80.30px;top:192.22px;font-size:7.6px;color:#4d4d4d">Dusun Pi4</div><div class="t" style="left:192.10px;top:192.22px;font-size:7.6px;color:#4d4d4d">CP0004</div><div class="t" style="left:295.00px;width:40px;text-align:right;top:192.22px;font-size:7.8px;color:#4d4d4d">328</div><div class="t" style="left:368.20px;width:40px;text-align:right;top:192.22px;font-size:7.8px;color:#4d4d4d">129</div><div class="t" style="left:447.30px;width:40px;text-align:right;top:192.22px;font-size:7.8px;color:#4d4d4d">199</div><div class="ab" style="left:74.00px;top:207.50px;width:579.70px;height:20.75px;background:#efebf9;border-top:0.7px solid #dfdaec"></div><div class="t" style="left:80.30px;top:212.97px;font-size:7.6px;color:#4d4d4d">UPS</div><div class="t" style="left:192.10px;top:212.97px;font-size:7.6px;color:#4d4d4d">CP0005</div><div class="t" style="left:295.00px;width:40px;text-align:right;top:212.97px;font-size:7.8px;color:#4d4d4d">207</div><div class="t" style="left:368.20px;width:40px;text-align:right;top:212.97px;font-size:7.8px;color:#4d4d4d">105</div><div class="t" style="left:447.30px;width:40px;text-align:right;top:212.97px;font-size:7.8px;color:#4d4d4d">102</div><div class="ab" style="left:74.00px;top:228.25px;width:579.70px;height:20.75px;background:#f0eff3;border-top:0.7px solid #dfdaec"></div><div class="t" style="left:80.30px;top:232.72px;font-size:7.6px;color:#4d4d4d">ST1L05</div><div class="t" style="left:192.10px;top:232.72px;font-size:7.6px;color:#4d4d4d">CP0006</div><div class="t" style="left:295.00px;width:40px;text-align:right;top:232.72px;font-size:7.8px;color:#4d4d4d">426</div><div class="t" style="left:368.20px;width:40px;text-align:right;top:232.72px;font-size:7.8px;color:#4d4d4d">179</div><div class="t" style="left:447.30px;width:40px;text-align:right;top:232.72px;font-size:7.8px;color:#4d4d4d">261</div><div class="ab" style="left:0;top:0.00px;width:74.00px;height:124.50px;background:#efebf9;border-top:0.7px solid #e2ddef"></div><div class="t" style="left:6.3px;top:5.38px;font-size:8px;color:#505050">杭州仓</div><div class="ab" style="left:0;top:124.50px;width:74.00px;height:124.50px;background:#efebf9;border-top:0.7px solid #e2ddef"></div><div class="t" style="left:6.3px;top:129.88px;font-size:8px;color:#505050">无锡仓</div><div class="ab" style="left:74.00px;top:0;width:0.7px;height:300px;background:#e6e1f1"></div><div class="ab" style="left:185.80px;top:0;width:0.7px;height:300px;background:#e6e1f1"></div><div class="ab" style="left:262.00px;top:0;width:0.7px;height:300px;background:#e6e1f1"></div><div class="ab" style="left:340.70px;top:0;width:0.7px;height:300px;background:#e6e1f1"></div><div class="ab" style="left:413.90px;top:0;width:0.7px;height:300px;background:#e6e1f1"></div><div class="ab" style="left:493.00px;top:0;width:0.7px;height:300px;background:#e6e1f1"></div></div>
<div class="ab" style="left:483.40px;top:244.3px;width:0.8px;height:19.5px;background:#fff;opacity:0.7"></div>
<div class="ab" style="left:595.20px;top:244.3px;width:0.8px;height:19.5px;background:#fff;opacity:0.7"></div>
<div class="ab" style="left:671.40px;top:244.3px;width:0.8px;height:19.5px;background:#fff;opacity:0.7"></div>
<div class="ab" style="left:750.10px;top:244.3px;width:0.8px;height:19.5px;background:#fff;opacity:0.7"></div>
<div class="ab" style="left:823.30px;top:244.3px;width:0.8px;height:19.5px;background:#fff;opacity:0.7"></div>
<div class="ab" style="left:902.40px;top:244.3px;width:0.8px;height:19.5px;background:#fff;opacity:0.7"></div>
<div class="ab" style="left:1063.1px;top:244.3px;width:4.5px;height:227.5px;background:#c4c4c8;border-radius:1px"></div>
<div class="ab" style="left:943.1px;top:505.6px;width:38.80px;height:18.8px;border:0.7px solid #e6e7eb;background:#f7f7f9;border-radius:2.2px"></div>
<div class="ab" style="left:961.9px;top:506px;width:0.7px;height:18px;background:#e6e7eb"></div>
<div class="ab" style="left:1020.4px;top:505.6px;width:38.35px;height:18.8px;border:0.7px solid #e6e7eb;background:#f7f7f9;border-radius:2.2px"></div>
<div class="ab" style="left:1039.4px;top:506px;width:0.7px;height:18px;background:#e6e7eb"></div>
<div class="ab" style="left:983.5px;top:505.6px;width:20px;height:18.8px;border:0.7px solid #e6e7eb;background:#fff;border-radius:2.2px"></div>
<div class="t" style="left:983.5px;width:20px;text-align:center;top:509.3px;font-size:8.3px;color:#333">1</div>
<div class="t" style="left:1005.6px;top:509.3px;font-size:8.3px;color:#444">/ 1</div>
<svg class="ab" style="left:949.5px;top:511.8px" width="6" height="6.5" viewBox="0 0 6 6.5"><path d="M0.8 0.3 V6.2 M5 0.3 L1.6 3.25 L5 6.2" stroke="#b8b8be" stroke-width="0.7" fill="none"/></svg>
<svg class="ab" style="left:969.2px;top:511.8px" width="5" height="6.5" viewBox="0 0 5 6.5"><path d="M3.8 0.3 L0.9 3.25 L3.8 6.2" stroke="#b8b8be" stroke-width="0.7" fill="none"/></svg>
<svg class="ab" style="left:1027.5px;top:511.8px" width="5" height="6.5" viewBox="0 0 5 6.5"><path d="M1.2 0.3 L4.1 3.25 L1.2 6.2" stroke="#b8b8be" stroke-width="0.7" fill="none"/></svg>
<svg class="ab" style="left:1046.5px;top:511.8px" width="6" height="6.5" viewBox="0 0 6 6.5"><path d="M5.2 0.3 V6.2 M1 0.3 L4.4 3.25 L1 6.2" stroke="#b8b8be" stroke-width="0.7" fill="none"/></svg>
</div></body></html>
